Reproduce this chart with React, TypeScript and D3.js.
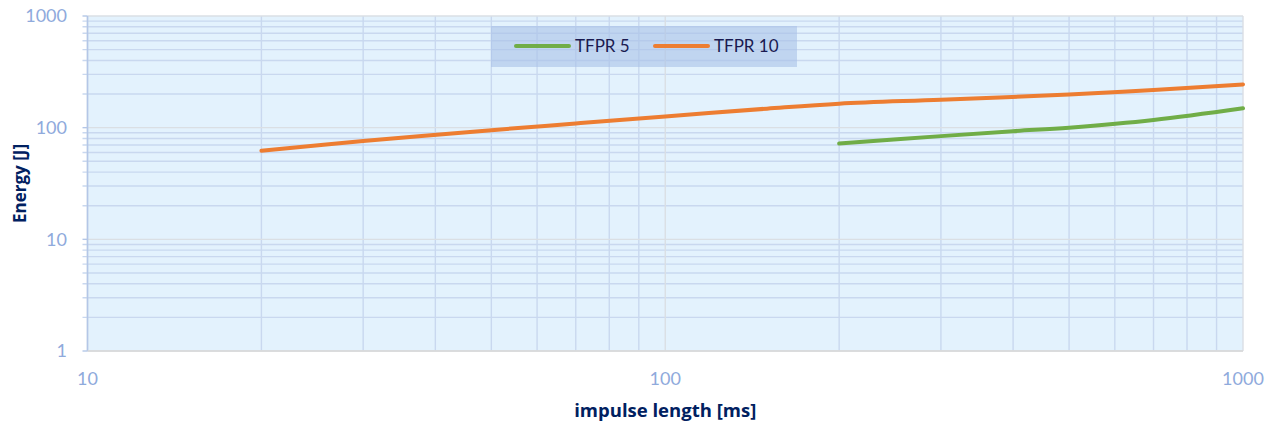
import React from "react";
import * as d3 from "d3";

const tfpr5X = [200, 300, 400, 500, 700, 1000];
const tfpr5Y = [72, 84, 93, 100, 117, 149];
const tfpr10X = [20, 30, 50, 70, 100, 150, 200, 300, 500, 700, 1000];
const tfpr10Y = [62, 76, 95, 109, 126, 148, 164, 178, 198, 217, 244];
const xTicks = [10, 100, 1000];
const yTicks = [1, 10, 100, 1000];
const seriesNames = ["TFPR 5", "TFPR 10"];
const seriesColors = ["#70ad47", "#ed7d31"];

const W = 1276, H = 426;
const L = 87.5, R = 1243, T = 16, B = 351;

export default function App() {
  const x = d3.scaleLog().domain([10, 1000]).range([L, R]);
  const y = d3.scaleLog().domain([1, 1000]).range([B, T]);
  const yMinors: number[] = [];
  for (const d of [1, 10, 100]) for (let k = 2; k <= 9; k++) yMinors.push(d * k);
  const xMinors: number[] = [];
  for (const d of [10, 100]) for (let k = 2; k <= 9; k++) xMinors.push(d * k);
  const line = d3
    .line<[number, number]>()
    .x((d) => x(d[0]))
    .y((d) => y(d[1]))
    .curve(d3.curveCatmullRom.alpha(0.5));
  const s5 = tfpr5X.map((v, i) => [v, tfpr5Y[i]] as [number, number]);
  const s10 = tfpr10X.map((v, i) => [v, tfpr10Y[i]] as [number, number]);
  const font = "'Open Sans', Lato, sans-serif";
  const lfont = "Lato, 'Open Sans', sans-serif";
  return (
    <svg width={W} height={H} style={{ position: "absolute", left: 0, top: 0, fontFamily: font }}>
      <rect x={0} y={0} width={W} height={H} fill="#fff" />
      <rect x={L} y={T} width={R - L} height={B - T} fill="#e3f2fd" />
      {yMinors.map((m) => (
        <line key={"hy" + m} x1={L - 5} x2={R} y1={y(m)} y2={y(m)} stroke="#c9d8ef" strokeWidth={1.4} />
      ))}
      {xMinors.map((m) => (
        <line key={"vx" + m} x1={x(m)} x2={x(m)} y1={T} y2={B} stroke="#c9d8ef" strokeWidth={1.4} />
      ))}
      {yTicks.map((t) => (
        <line key={"my" + t} x1={L} x2={R} y1={y(t)} y2={y(t)} stroke="#dadfe4" strokeWidth={1.4} />
      ))}
      {xTicks.map((t) => (
        <line key={"mx" + t} x1={x(t)} x2={x(t)} y1={T} y2={B} stroke="#dadfe4" strokeWidth={1.4} />
      ))}
      <line x1={L} x2={L} y1={T} y2={B} stroke="#b4c7e7" strokeWidth={1.6} />
      <line x1={L} x2={R} y1={B} y2={B} stroke="#d9d9d9" strokeWidth={1.6} />
      {yTicks.map((t) => (
        <line key={"ty" + t} x1={L - 5} x2={L} y1={y(t)} y2={y(t)} stroke="#b4c7e7" strokeWidth={1.4} />
      ))}
      <path d={line(s10) || ""} fill="none" stroke={seriesColors[1]} strokeWidth={4} strokeLinecap="round" />
      <path d={line(s5) || ""} fill="none" stroke={seriesColors[0]} strokeWidth={4} strokeLinecap="round" />
      {yTicks.map((t) => (
        <text key={"ly" + t} x={67} y={y(t)} dy="0.35em" textAnchor="end" fontSize={18} fill="#8faadc" fontFamily={lfont}>
          {t}
        </text>
      ))}
      {xTicks.map((t) => (
        <text key={"lx" + t} x={x(t)} y={385} textAnchor="middle" fontSize={18} fill="#8faadc" fontFamily={lfont}>
          {t}
        </text>
      ))}
      <text x={(L + R) / 2} y={417} textAnchor="middle" fontSize={18.5} fontWeight="bold" fill="#002060">
        impulse length [ms]
      </text>
      <text
        transform={`translate(26,${(T + B) / 2}) rotate(-90)`}
        textAnchor="middle"
        fontSize={17}
        fontWeight="bold"
        fill="#002060"
      >
        Energy [J]
      </text>
      <rect x={491} y={26} width={306} height={41} fill="#a9c1e8" opacity={0.6} />
      {seriesNames.map((n, i) => (
        <g key={n} transform={`translate(${516 + i * 139},46)`}>
          <line x1={0} x2={53} y1={0} y2={0} stroke={seriesColors[i]} strokeWidth={4} strokeLinecap="round" />
          <text x={59} y={0} dy="0.35em" fontSize={17} fill="#1a1a50" fontFamily={lfont}>
            {n}
          </text>
        </g>
      ))}
    </svg>
  );
}
